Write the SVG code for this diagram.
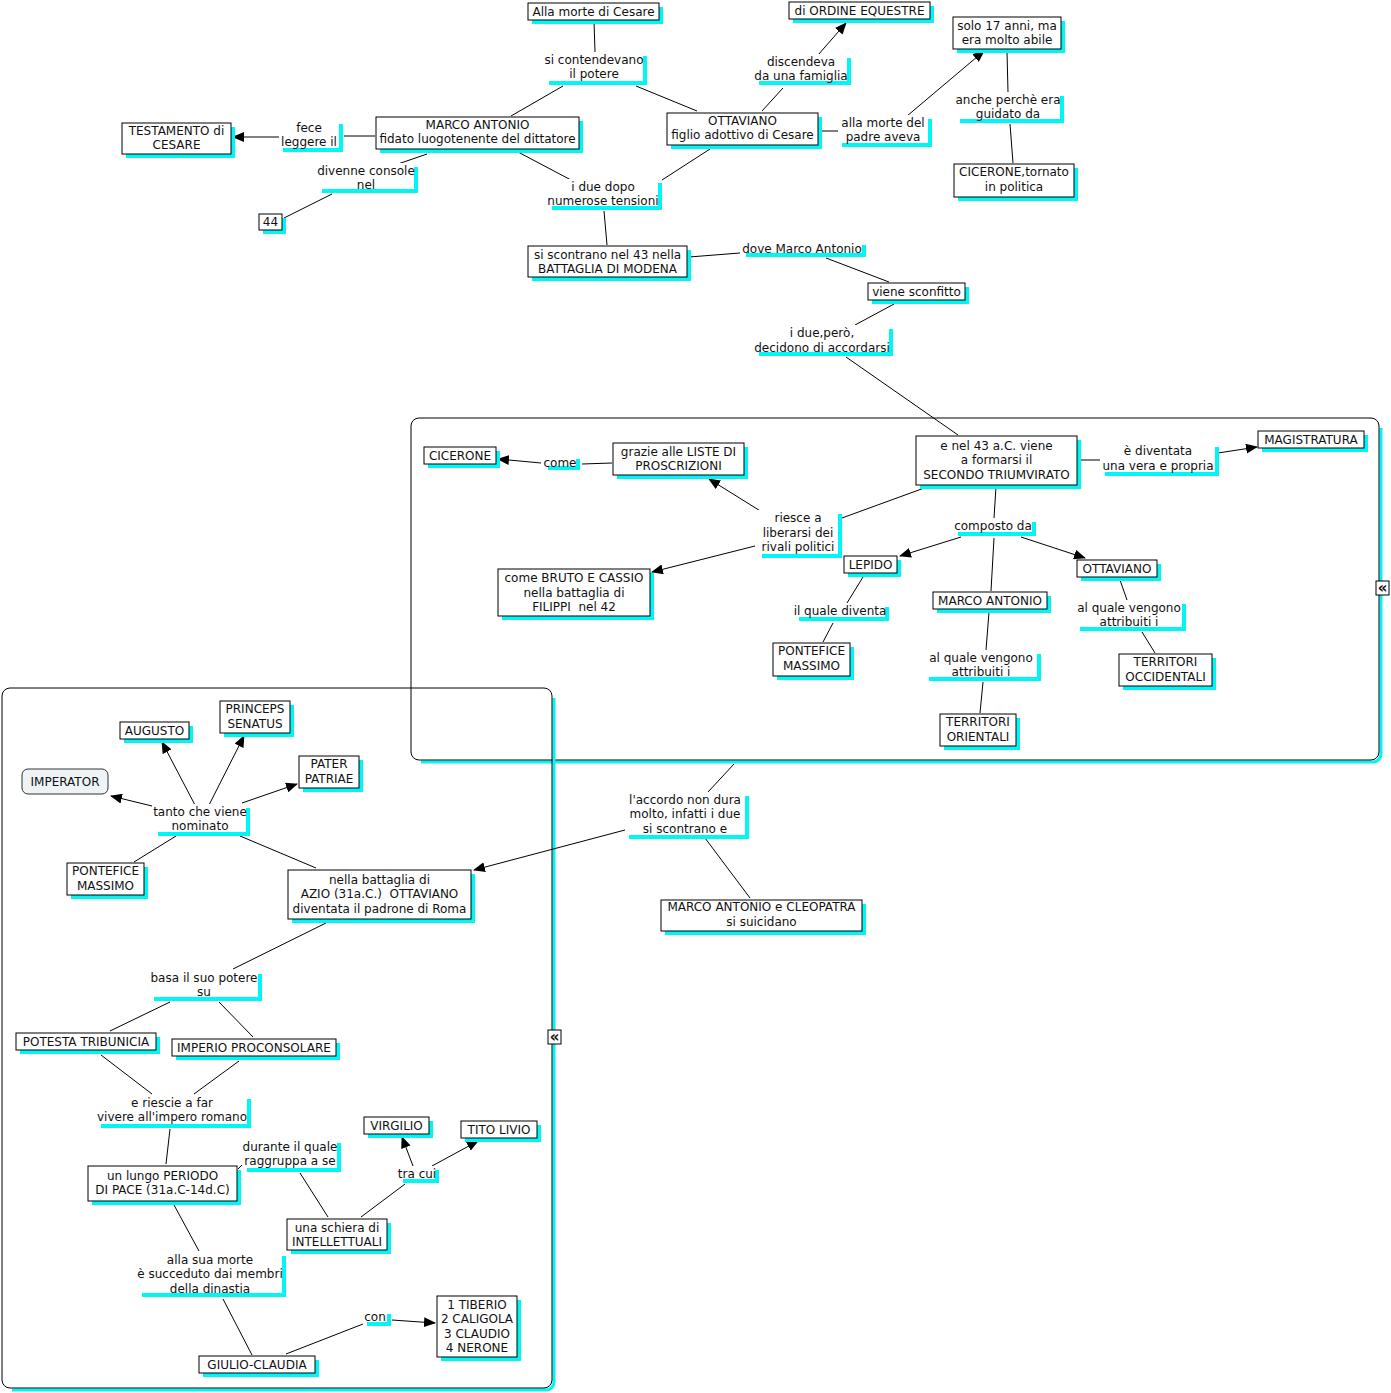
<svg xmlns="http://www.w3.org/2000/svg" width="1391" height="1393" viewBox="0 0 1391 1393">
<style>
text{font-family:"DejaVu Sans",Verdana,sans-serif;font-size:12px;fill:#111;text-anchor:middle;white-space:pre}
.sh{fill:#00f5f5}
.bx{fill:#fff;stroke:#000;stroke-width:1}
.lb{fill:#fff}
.grp{fill:none;stroke:#000;stroke-width:1}
.gsh{fill:none;stroke:#00f5f5;stroke-width:3}
.c line{stroke:#000;stroke-width:1}
.c .a{marker-end:url(#ah)}
.imp{fill:#eef3f5;stroke:#333;stroke-width:1}
.col{fill:#fff;stroke:#000;stroke-width:1}
.colt{font-size:15px;font-weight:bold}
</style>
<defs>
<marker id="ah" markerUnits="userSpaceOnUse" markerWidth="12" markerHeight="10" refX="11" refY="5" orient="auto">
<path d="M0,0 L12,5 L0,10 z" fill="#000"/>
</marker>
</defs>
<rect width="1391" height="1393" fill="#fff"/>

<g id="group-triumvirato">
<path class="gsh" d="M1381,428 V754 a8,8 0 0 1 -8,8 H421"/>
<rect class="grp" x="411" y="418" width="968" height="342" rx="8"/>
<rect class="col" x="1376" y="581" width="13" height="14"/>
<text class="colt" x="1382.5" y="593">«</text>
</g>
<g id="group-augusto">
<path class="gsh" d="M554,698 V1382 a8,8 0 0 1 -8,8 H12"/>
<rect class="grp" x="2" y="688" width="550" height="700" rx="8"/>
<rect class="col" x="548" y="1030" width="13" height="14"/>
<text class="colt" x="554.5" y="1042">«</text>
</g>

<g id="connectors" class="c">
<line x1="594" y1="21" x2="595" y2="52"/>
<line x1="563" y1="86" x2="511" y2="116"/>
<line x1="636" y1="86" x2="697" y2="111"/>
<line x1="518" y1="152" x2="571" y2="180"/>
<line x1="710" y1="149" x2="662" y2="180"/>
<line x1="604" y1="211" x2="607" y2="245"/>
<line x1="762" y1="111" x2="783" y2="88"/>
<line class="a" x1="818" y1="55" x2="846" y2="23"/>
<line x1="819" y1="131" x2="838" y2="131"/>
<line class="a" x1="907" y1="116" x2="984" y2="51"/>
<line x1="1007" y1="52" x2="1008" y2="92"/>
<line x1="1010" y1="124" x2="1013" y2="163"/>
<line x1="375" y1="136" x2="344" y2="136"/>
<line class="a" x1="281" y1="137" x2="233" y2="137"/>
<line x1="427" y1="154" x2="395" y2="165"/>
<line x1="332" y1="194" x2="284" y2="218"/>
<line x1="689" y1="257" x2="740" y2="253"/>
<line x1="826" y1="258" x2="889" y2="282"/>
<line x1="894" y1="304" x2="855" y2="325"/>
<line x1="846" y1="357" x2="958" y2="435"/>
<line x1="1080" y1="460" x2="1100" y2="460"/>
<line class="a" x1="1218" y1="453" x2="1257" y2="447"/>
<line x1="927" y1="487" x2="842" y2="518"/>
<line class="a" x1="762" y1="512" x2="709" y2="479"/>
<line class="a" x1="755" y1="546" x2="652" y2="572"/>
<line x1="612" y1="463" x2="582" y2="464"/>
<line class="a" x1="541" y1="463" x2="498" y2="459"/>
<line x1="996" y1="487" x2="994" y2="518"/>
<line class="a" x1="961" y1="537" x2="900" y2="556"/>
<line class="a" x1="1021" y1="537" x2="1085" y2="558"/>
<line x1="994" y1="538" x2="991" y2="591"/>
<line x1="863" y1="577" x2="847" y2="603"/>
<line x1="833" y1="623" x2="823" y2="642"/>
<line x1="989" y1="612" x2="986" y2="650"/>
<line x1="983" y1="682" x2="980" y2="713"/>
<line x1="1120" y1="580" x2="1127" y2="600"/>
<line x1="1142" y1="632" x2="1155" y2="653"/>
<line x1="734" y1="764" x2="708" y2="792"/>
<line class="a" x1="625" y1="830" x2="474" y2="870"/>
<line x1="705" y1="838" x2="750" y2="898"/>
<line x1="316" y1="868" x2="240" y2="836"/>
<line class="a" x1="195" y1="805" x2="162" y2="742"/>
<line class="a" x1="209" y1="805" x2="244" y2="736"/>
<line class="a" x1="242" y1="803" x2="297" y2="784"/>
<line class="a" x1="152" y1="806" x2="111" y2="796"/>
<line x1="176" y1="836" x2="134" y2="862"/>
<line x1="326" y1="923" x2="233" y2="969"/>
<line x1="170" y1="1002" x2="110" y2="1031"/>
<line x1="219" y1="1002" x2="253" y2="1037"/>
<line x1="101" y1="1055" x2="152" y2="1094"/>
<line x1="239" y1="1061" x2="194" y2="1094"/>
<line x1="170" y1="1129" x2="166" y2="1164"/>
<line x1="238" y1="1169" x2="242" y2="1165"/>
<line x1="300" y1="1173" x2="328" y2="1217"/>
<line x1="361" y1="1217" x2="405" y2="1184"/>
<line class="a" x1="413" y1="1166" x2="402" y2="1137"/>
<line class="a" x1="432" y1="1166" x2="478" y2="1141"/>
<line x1="174" y1="1205" x2="199" y2="1251"/>
<line x1="223" y1="1299" x2="252" y2="1355"/>
<line x1="286" y1="1354" x2="363" y2="1324"/>
<line class="a" x1="392" y1="1320" x2="435" y2="1323"/>
</g>

<!-- nodes -->
<g id="n-alla-morte"><rect class="sh" x="532" y="7" width="131" height="17"/><rect class="bx" x="528" y="3" width="131" height="17"/><text x="593.5" y="16">Alla morte di Cesare</text></g>
<g id="n-ordine"><rect class="sh" x="793" y="6" width="141" height="17"/><rect class="bx" x="789" y="2" width="141" height="17"/><text x="859.5" y="15">di ORDINE EQUESTRE</text></g>
<g id="n-marco"><rect class="sh" x="380" y="121" width="203" height="32"/><rect class="bx" x="376" y="117" width="203" height="32"/><text x="477.5" y="129">MARCO ANTONIO</text><text x="477.5" y="143">fidato luogotenente del dittatore</text></g>
<g id="n-ottaviano"><rect class="sh" x="671" y="117" width="151" height="32"/><rect class="bx" x="667" y="113" width="151" height="32"/><text x="742.5" y="125">OTTAVIANO</text><text x="742.5" y="139">figlio adottivo di Cesare</text></g>
<g id="n-solo17"><rect class="sh" x="957" y="21" width="108" height="32"/><rect class="bx" x="953" y="17" width="108" height="32"/><text x="1007" y="30">solo 17 anni, ma</text><text x="1007" y="44">era molto abile</text></g>
<g id="n-cicerone-tornato"><rect class="sh" x="958" y="168" width="120" height="33"/><rect class="bx" x="954" y="164" width="120" height="33"/><text x="1014" y="176">CICERONE,tornato</text><text x="1014" y="191">in politica</text></g>
<g id="n-testamento"><rect class="sh" x="126" y="127" width="109" height="31"/><rect class="bx" x="122" y="123" width="109" height="31"/><text x="176.5" y="135">TESTAMENTO di</text><text x="176.5" y="149">CESARE</text></g>
<g id="n-44"><rect class="sh" x="263" y="218" width="23" height="16"/><rect class="bx" x="259" y="214" width="23" height="16"/><text x="270.5" y="226">44</text></g>
<g id="n-modena"><rect class="sh" x="532" y="250" width="159" height="31"/><rect class="bx" x="528" y="246" width="159" height="31"/><text x="607.5" y="259">si scontrano nel 43 nella</text><text x="607.5" y="273">BATTAGLIA DI MODENA</text></g>
<g id="n-sconfitto"><rect class="sh" x="872" y="287" width="97" height="17"/><rect class="bx" x="868" y="283" width="97" height="17"/><text x="916.5" y="296">viene sconfitto</text></g>
<g id="n-cicerone"><rect class="sh" x="428" y="451" width="72" height="17"/><rect class="bx" x="424" y="447" width="72" height="17"/><text x="460" y="460">CICERONE</text></g>
<g id="n-liste"><rect class="sh" x="617" y="447" width="131" height="32"/><rect class="bx" x="613" y="443" width="131" height="32"/><text x="678.5" y="456">grazie alle LISTE DI</text><text x="678.5" y="470">PROSCRIZIONI</text></g>
<g id="n-bruto"><rect class="sh" x="502" y="573" width="152" height="47"/><rect class="bx" x="498" y="569" width="152" height="47"/><text x="574" y="582">come BRUTO E CASSIO</text><text x="574" y="597">nella battaglia di</text><text x="574" y="611">FILIPPI  nel 42</text></g>
<g id="n-triumvirato"><rect class="sh" x="920" y="440" width="161" height="49"/><rect class="bx" x="916" y="436" width="161" height="49"/><text x="996.5" y="450">e nel 43 a.C. viene</text><text x="996.5" y="464">a formarsi il</text><text x="996.5" y="479">SECONDO TRIUMVIRATO</text></g>
<g id="n-magistratura"><rect class="sh" x="1262" y="435" width="106" height="17"/><rect class="bx" x="1258" y="431" width="106" height="17"/><text x="1311" y="444">MAGISTRATURA</text></g>
<g id="n-lepido"><rect class="sh" x="848" y="560" width="53" height="17"/><rect class="bx" x="844" y="556" width="53" height="17"/><text x="870.5" y="569">LEPIDO</text></g>
<g id="n-marco2"><rect class="sh" x="937" y="596" width="114" height="17"/><rect class="bx" x="933" y="592" width="114" height="17"/><text x="990" y="605">MARCO ANTONIO</text></g>
<g id="n-ottaviano2"><rect class="sh" x="1081" y="564" width="80" height="17"/><rect class="bx" x="1077" y="560" width="80" height="17"/><text x="1117" y="573">OTTAVIANO</text></g>
<g id="n-pontefice1"><rect class="sh" x="777" y="647" width="77" height="33"/><rect class="bx" x="773" y="643" width="77" height="33"/><text x="811.5" y="655">PONTEFICE</text><text x="811.5" y="670">MASSIMO</text></g>
<g id="n-orientali"><rect class="sh" x="944" y="718" width="76" height="32"/><rect class="bx" x="940" y="714" width="76" height="32"/><text x="978" y="726">TERRITORI</text><text x="978" y="741">ORIENTALI</text></g>
<g id="n-occidentali"><rect class="sh" x="1123" y="658" width="93" height="32"/><rect class="bx" x="1119" y="654" width="93" height="32"/><text x="1165.5" y="666">TERRITORI</text><text x="1165.5" y="681">OCCIDENTALI</text></g>
<g id="n-augusto"><rect class="sh" x="124" y="726" width="69" height="17"/><rect class="bx" x="120" y="722" width="69" height="17"/><text x="154.5" y="735">AUGUSTO</text></g>
<g id="n-princeps"><rect class="sh" x="224" y="705" width="70" height="32"/><rect class="bx" x="220" y="701" width="70" height="32"/><text x="255" y="713">PRINCEPS</text><text x="255" y="728">SENATUS</text></g>
<g id="n-imperator"><rect class="imp" x="22" y="769" width="86" height="25" rx="6"/><text x="65" y="786">IMPERATOR</text></g>
<g id="n-pater"><rect class="sh" x="303" y="760" width="60" height="32"/><rect class="bx" x="299" y="756" width="60" height="32"/><text x="329" y="768">PATER</text><text x="329" y="783">PATRIAE</text></g>
<g id="n-pontefice2"><rect class="sh" x="71" y="867" width="77" height="32"/><rect class="bx" x="67" y="863" width="77" height="32"/><text x="105.5" y="875">PONTEFICE</text><text x="105.5" y="890">MASSIMO</text></g>
<g id="n-azio"><rect class="sh" x="292" y="874" width="183" height="49"/><rect class="bx" x="288" y="870" width="183" height="49"/><text x="379.5" y="884">nella battaglia di</text><text x="379.5" y="898">AZIO (31a.C.)  OTTAVIANO</text><text x="379.5" y="913">diventata il padrone di Roma</text></g>
<g id="n-cleopatra"><rect class="sh" x="665" y="904" width="201" height="31"/><rect class="bx" x="661" y="900" width="201" height="31"/><text x="761.5" y="911">MARCO ANTONIO e CLEOPATRA</text><text x="761.5" y="926">si suicidano</text></g>
<g id="n-potesta"><rect class="sh" x="20" y="1037" width="140" height="17"/><rect class="bx" x="16" y="1033" width="140" height="17"/><text x="86" y="1046">POTESTA TRIBUNICIA</text></g>
<g id="n-imperio"><rect class="sh" x="176" y="1043" width="164" height="17"/><rect class="bx" x="172" y="1039" width="164" height="17"/><text x="254" y="1052">IMPERIO PROCONSOLARE</text></g>
<g id="n-pace"><rect class="sh" x="92" y="1170" width="149" height="35"/><rect class="bx" x="88" y="1166" width="149" height="35"/><text x="162.5" y="1180">un lungo PERIODO</text><text x="162.5" y="1194">DI PACE (31a.C-14d.C)</text></g>
<g id="n-virgilio"><rect class="sh" x="368" y="1121" width="65" height="17"/><rect class="bx" x="364" y="1117" width="65" height="17"/><text x="396.5" y="1130">VIRGILIO</text></g>
<g id="n-tito"><rect class="sh" x="465" y="1125" width="76" height="17"/><rect class="bx" x="461" y="1121" width="76" height="17"/><text x="499" y="1134">TITO LIVIO</text></g>
<g id="n-intellettuali"><rect class="sh" x="291" y="1223" width="100" height="31"/><rect class="bx" x="287" y="1219" width="100" height="31"/><text x="337" y="1232">una schiera di</text><text x="337" y="1246">INTELLETTUALI</text></g>
<g id="n-giulio"><rect class="sh" x="203" y="1360" width="116" height="17"/><rect class="bx" x="199" y="1356" width="116" height="17"/><text x="257" y="1369">GIULIO-CLAUDIA</text></g>
<g id="n-imperatori"><rect class="sh" x="441" y="1300" width="80" height="61"/><rect class="bx" x="437" y="1296" width="80" height="61"/><text x="477" y="1309">1 TIBERIO</text><text x="477" y="1323">2 CALIGOLA</text><text x="477" y="1338">3 CLAUDIO</text><text x="477" y="1352">4 NERONE</text></g>

<!-- linking phrases -->
<g id="l-contendevano"><rect class="sh" x="549" y="56" width="98" height="29"/><rect class="lb" x="545" y="52" width="98" height="29"/><text x="594" y="64">si contendevano</text><text x="594" y="78">il potere</text></g>
<g id="l-discendeva"><rect class="sh" x="759" y="58" width="92" height="27"/><rect class="lb" x="755" y="54" width="92" height="27"/><text x="801" y="66">discendeva</text><text x="801" y="80">da una famiglia</text></g>
<g id="l-morte-padre"><rect class="sh" x="842" y="119" width="90" height="28"/><rect class="lb" x="838" y="115" width="90" height="28"/><text x="883" y="127">alla morte del</text><text x="883" y="141">padre aveva</text></g>
<g id="l-guidato"><rect class="sh" x="960" y="96" width="104" height="27"/><rect class="lb" x="956" y="92" width="104" height="27"/><text x="1008" y="104">anche perchè era</text><text x="1008" y="118">guidato da</text></g>
<g id="l-fece"><rect class="sh" x="283" y="124" width="60" height="28"/><rect class="lb" x="279" y="120" width="60" height="28"/><text x="309" y="132">fece</text><text x="309" y="146">leggere il</text></g>
<g id="l-console"><rect class="sh" x="322" y="167" width="96" height="26"/><rect class="lb" x="318" y="163" width="96" height="26"/><text x="366" y="175">divenne console</text><text x="366" y="189">nel</text></g>
<g id="l-tensioni"><rect class="sh" x="552" y="183" width="110" height="27"/><rect class="lb" x="548" y="179" width="110" height="27"/><text x="603" y="191">i due dopo</text><text x="603" y="205">numerose tensioni</text></g>
<g id="l-dove"><rect class="sh" x="746" y="245" width="120" height="12"/><rect class="lb" x="742" y="241" width="120" height="12"/><text x="802" y="253">dove Marco Antonio</text></g>
<g id="l-accordarsi"><rect class="sh" x="759" y="329" width="134" height="27"/><rect class="lb" x="755" y="325" width="134" height="27"/><text x="822" y="337">i due,però,</text><text x="822" y="352">decidono di accordarsi</text></g>
<g id="l-come"><rect class="sh" x="548" y="459" width="32" height="11"/><rect class="lb" x="544" y="455" width="32" height="11"/><text x="560" y="467">come</text></g>
<g id="l-riesce"><rect class="sh" x="762" y="514" width="80" height="44"/><rect class="lb" x="758" y="510" width="80" height="44"/><text x="798" y="522">riesce a</text><text x="798" y="537">liberarsi dei</text><text x="798" y="551">rivali politici</text></g>
<g id="l-diventata"><rect class="sh" x="1105" y="447" width="114" height="29"/><rect class="lb" x="1101" y="443" width="114" height="29"/><text x="1158" y="455">è diventata</text><text x="1158" y="470">una vera e propria</text></g>
<g id="l-composto"><rect class="sh" x="958" y="522" width="78" height="14"/><rect class="lb" x="954" y="518" width="78" height="14"/><text x="993" y="530">composto da</text></g>
<g id="l-quale-diventa"><rect class="sh" x="799" y="607" width="90" height="14"/><rect class="lb" x="795" y="603" width="90" height="14"/><text x="840" y="615">il quale diventa</text></g>
<g id="l-attribuiti1"><rect class="sh" x="929" y="654" width="112" height="27"/><rect class="lb" x="925" y="650" width="112" height="27"/><text x="981" y="662">al quale vengono</text><text x="981" y="676">attribuiti i</text></g>
<g id="l-attribuiti2"><rect class="sh" x="1080" y="604" width="106" height="27"/><rect class="lb" x="1076" y="600" width="106" height="27"/><text x="1129" y="612">al quale vengono</text><text x="1129" y="626">attribuiti i</text></g>
<g id="l-nominato"><rect class="sh" x="158" y="808" width="92" height="28"/><rect class="lb" x="154" y="804" width="92" height="28"/><text x="200" y="816">tanto che viene</text><text x="200" y="830">nominato</text></g>
<g id="l-accordo"><rect class="sh" x="629" y="796" width="120" height="43"/><rect class="lb" x="625" y="792" width="120" height="43"/><text x="685" y="804">l'accordo non dura</text><text x="685" y="818">molto, infatti i due</text><text x="685" y="833">si scontrano e</text></g>
<g id="l-basa"><rect class="sh" x="154" y="974" width="108" height="27"/><rect class="lb" x="150" y="970" width="108" height="27"/><text x="204" y="982">basa il suo potere</text><text x="204" y="996">su</text></g>
<g id="l-riescie"><rect class="sh" x="101" y="1099" width="150" height="29"/><rect class="lb" x="97" y="1095" width="150" height="29"/><text x="172" y="1107">e riescie a far</text><text x="172" y="1121">vivere all'impero romano</text></g>
<g id="l-durante"><rect class="sh" x="247" y="1143" width="94" height="29"/><rect class="lb" x="243" y="1139" width="94" height="29"/><text x="290" y="1151">durante il quale</text><text x="290" y="1165">raggruppa a se</text></g>
<g id="l-tracui"><rect class="sh" x="403" y="1170" width="36" height="13"/><rect class="lb" x="399" y="1166" width="36" height="13"/><text x="417" y="1178">tra cui</text></g>
<g id="l-dinastia"><rect class="sh" x="142" y="1256" width="144" height="41"/><rect class="lb" x="138" y="1252" width="144" height="41"/><text x="210" y="1264">alla sua morte</text><text x="210" y="1278">è succeduto dai membri</text><text x="210" y="1293">della dinastia</text></g>
<g id="l-con"><rect class="sh" x="367" y="1314" width="24" height="12"/><rect class="lb" x="363" y="1310" width="24" height="12"/><text x="375" y="1321">con</text></g>
</svg>
